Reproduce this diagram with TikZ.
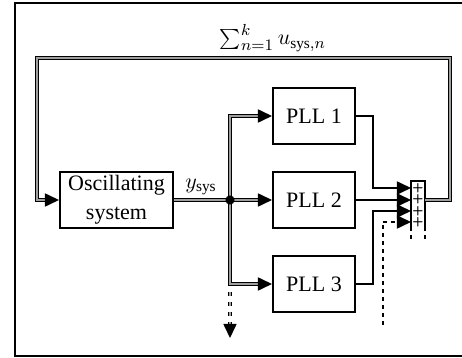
\documentclass[tikz,border=0pt]{standalone}
\usepackage{fontspec}
\setmainfont{Liberation Serif}
\usetikzlibrary{arrows.meta,calc}
\begin{document}
\begin{tikzpicture}[x=0.5pt,y=-0.5pt,
  every node/.style={font=\fontsize{11}{14.5}\selectfont},
  blk/.style={draw,line width=1pt,minimum width=41pt,minimum height=28pt,inner sep=0pt,align=center},
  sig/.style={line width=0.8pt},
  dbl/.style={line width=0.6pt,double=gray!75,double distance=0.8pt},
  tip/.style={-{Triangle[length=7pt,width=6.5pt]},line width=0.8pt},
  plus/.style={inner sep=0pt,font=\fontsize{6.5}{6.5}\sffamily\bfseries\selectfont},
  ]
\useasboundingbox (0,0) rectangle (462,358);
\draw[line width=1pt] (466,3) -- (15,3) -- (15,356) -- (466,356);
% blocks
\node[blk,minimum width=56.5pt] (osc) at (116.5,200) {Oscillating\\system};
\node[blk] (p1) at (314,116) {PLL 1};
\node[blk] (p2) at (314,200) {PLL 2};
\node[blk] (p3) at (314,284) {PLL 3};
% summation block
\node[minimum width=7pt,minimum height=23pt,inner sep=0pt] (sum) at (418,204) {};
\draw[line width=1pt] (sum.south west) -- (sum.north west) -- (sum.north east) -- (sum.south east);
\draw[line width=1pt,dash pattern=on 2pt off 2pt] (sum.south west) -- ++(0,12);
\draw[line width=1pt,dash pattern=on 2pt off 2pt] (sum.south east) -- ++(0,12);
\node[plus] (pl1) at (418,188) {+};
\node[plus] (pl2) at (418,199.5) {+};
\node[plus] (pl3) at (418,211) {+};
\node[plus] (pl4) at (418,222) {+};
% coordinates
\coordinate (J) at (230,200);
\coordinate (so) at (425,200);
\coordinate (fr) at (450,58);
\coordinate (fl) at (37,58);
\coordinate (k1) at (373,188);
\coordinate (k3) at (373,211);
\coordinate (s1) at (411,188);
\coordinate (s2) at (411,200);
\coordinate (s3) at (411,211);
\coordinate (s4) at (411,222);
\coordinate (e0) at (383,325);
\coordinate (e1) at (383,222);
\coordinate (d1) at (230,292);
\coordinate (d2) at (230,325);
\coordinate (d3) at (230,338);
% feedback double line
\draw[dbl] (so) -| (fr) -- (fl) |- ($(osc.west)+(-7pt,0)$);
\draw[tip] ($(osc.west)+(-7pt,0)$) -- (osc.west);
% distribution
\draw[dbl] (osc.east) -- (J);
\draw[dbl] (J) |- ($(p1.west)+(-7pt,0)$);
\draw[dbl] (J) |- ($(p3.west)+(-7pt,0)$);
\draw[dbl] (J) -- ($(p2.west)+(-7pt,0)$);
\draw[tip] ($(p1.west)+(-7pt,0)$) -- (p1.west);
\draw[tip] ($(p2.west)+(-7pt,0)$) -- (p2.west);
\draw[tip] ($(p3.west)+(-7pt,0)$) -- (p3.west);
\fill (J) circle (2.3pt);
\draw[dbl,dash pattern=on 2pt off 3pt] (d1) -- (d2);
\draw[tip] (d2) -- (d3);
% into sum
\draw[tip] (p1.east) -| (k1) -- (s1);
\draw[tip] (p2.east) -- (s2);
\draw[tip] (p3.east) -| (k3) -- (s3);
\draw[sig,dash pattern=on 2pt off 2pt] (e0) -- (e1);
\draw[tip,dash pattern=on 2pt off 2pt] (e1) -- (s4);
% labels
\node (ylab) at (201,187) {$y_{\mathrm{sys}}$};
\node (slab) at (273,38) {$\sum_{n=1}^{k} u_{\mathrm{sys},n}$};
\end{tikzpicture}
\end{document}
